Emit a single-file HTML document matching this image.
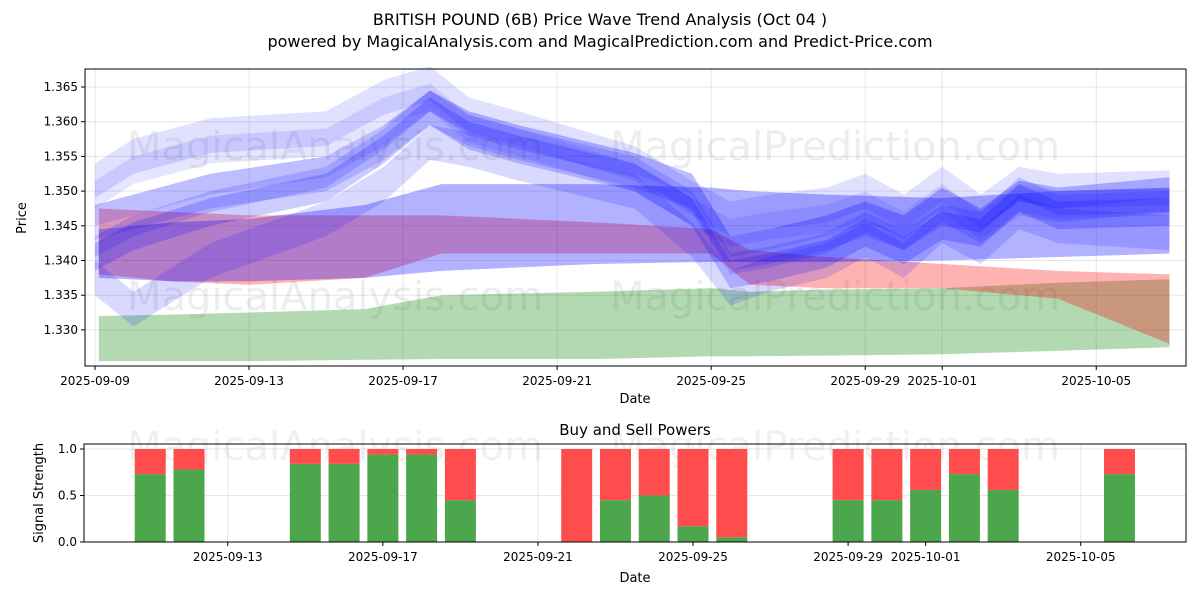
<!DOCTYPE html>
<html><head><meta charset="utf-8"><style>
body{margin:0;background:#fff;font-family:"Liberation Sans","DejaVu Sans",sans-serif}
svg text{font-family:"DejaVu Sans","Liberation Sans",sans-serif}
</style></head><body>
<svg id="c" width="1200" height="600" xmlns="http://www.w3.org/2000/svg">
<rect width="1200" height="600" fill="#fff"/>
<text x="600" y="25" text-anchor="middle" font-size="16">BRITISH POUND (6B) Price Wave Trend Analysis (Oct 04 )</text>
<text x="600" y="47" text-anchor="middle" font-size="16">powered by MagicalAnalysis.com and MagicalPrediction.com and Predict-Price.com</text>
<g id="topG"></g><g id="botG"></g>
</svg>
<script>
// Top chart data (day offsets from 2025-09-09)
const bandDays = [0.1,2,4,7,9,13,16,17,19,22,25,27.9];
const greenLow = [1.3255,1.3255,1.3255,1.3257,1.3258,1.3258,1.3262,1.3262,1.3263,1.3265,1.327,1.3275];
const greenHigh = [1.332,1.3322,1.3325,1.333,1.335,1.3355,1.336,1.3355,1.3358,1.336,1.3368,1.3373];
const redLow = [1.338,1.337,1.3365,1.3375,1.341,1.341,1.341,1.3365,1.336,1.336,1.3345,1.328];
const redHigh = [1.3475,1.347,1.3465,1.3465,1.3465,1.3455,1.3445,1.3415,1.3405,1.3395,1.3385,1.338];
const purpleLow = [1.3375,1.337,1.337,1.3375,1.3385,1.3395,1.3398,1.3398,1.3398,1.340,1.3405,1.341];
const purpleHigh = [1.3445,1.3455,1.346,1.348,1.351,1.351,1.3505,1.350,1.3495,1.349,1.350,1.3505];
const waveDays = [0,1,3,6,7.5,8.7,9.7,11,14,15.5,16.5,17.5,19,20,21,22,23,24,25,27.9];
const waveA = [1.3405,1.3435,1.347,1.3505,1.356,1.3615,1.358,1.356,1.352,1.347,1.338,1.339,1.341,1.344,1.3415,1.345,1.344,1.349,1.3465,1.347];
const waveB = [1.3515,1.355,1.358,1.359,1.3635,1.3655,1.361,1.359,1.354,1.349,1.346,1.347,1.348,1.350,1.347,1.351,1.347,1.351,1.350,1.3505];
const waveC = [1.3455,1.347,1.350,1.3525,1.357,1.362,1.359,1.357,1.353,1.350,1.341,1.342,1.344,1.346,1.344,1.348,1.345,1.349,1.348,1.3495];
const waveD = [1.3375,1.333,1.340,1.346,1.351,1.357,1.356,1.354,1.350,1.343,1.336,1.338,1.340,1.343,1.340,1.345,1.342,1.347,1.345,1.344];
const yTicks = [1.330,1.335,1.340,1.345,1.350,1.355,1.360,1.365];
const xTickDays = [0,4,8,12,16,20,22,26];
const xTickLabels = ["2025-09-09","2025-09-13","2025-09-17","2025-09-21","2025-09-25","2025-09-29","2025-10-01","2025-10-05"];
// Bottom chart data
const barDays = [2,3,6,7,8,9,10,13,14,15,16,17,20,21,22,23,24,27];
const buyPower = [0.73,0.78,0.84,0.84,0.94,0.94,0.45,0,0.45,0.5,0.17,0.05,0.45,0.45,0.56,0.73,0.56,0.73];
const sigTicks = [0,0.5,1.0];
const botTickDays = [4,8,12,16,20,22,26];
const botTickLabels = ["2025-09-13","2025-09-17","2025-09-21","2025-09-25","2025-09-29","2025-10-01","2025-10-05"];

const NS="http://www.w3.org/2000/svg";
function mk(tag,attrs,parent,txt){const e=document.createElementNS(NS,tag);for(const k in attrs)e.setAttribute(k,attrs[k]);if(txt!==undefined)e.textContent=txt;parent.appendChild(e);return e;}
const gTop=document.getElementById('topG'), gBot=document.getElementById('botG');
const L=85,R=1186,T=69,B=366;
const xs=d=>95+d*38.51;
const ys=v=>87+(1.365-v)/0.005*34.7;
function band(days,lo,hi,fill,op,name){
  let p=days.map((d,i)=>xs(d)+','+ys(hi[i]));
  for(let i=days.length-1;i>=0;i--)p.push(xs(days[i])+','+ys(lo[i]));
  const e=mk('polygon',{points:p.join(' '),fill:fill,'fill-opacity':op},gTop);
  
  
}
function wave(arr,off,hw,op,name){
  band(waveDays,arr.map(v=>v+off-hw),arr.map(v=>v+off+hw),'#0000ff',op,name);
}
yTicks.forEach(v=>{const g=mk('line',{x1:L,x2:R,y1:ys(v),y2:ys(v),stroke:'#e6e6e6'},gTop);

});
xTickDays.forEach(d=>{const g=mk('line',{x1:xs(d),x2:xs(d),y1:T,y2:B,stroke:'#e6e6e6'},gTop);

});
[[335,160],[835,160],[335,310],[835,310]].forEach((p,i)=>{const t=mk('text',{x:p[0],y:p[1],'text-anchor':'middle','font-size':40,fill:'#000','fill-opacity':0.07},gTop,i%2?'MagicalPrediction.com':'MagicalAnalysis.com');

});
band(bandDays,greenLow,greenHigh,'#008000',0.3,'green-band');
band(bandDays,redLow,redHigh,'#ff0000',0.3,'red-band');
band(bandDays,purpleLow,purpleHigh,'#0000ff',0.3,'blue-band');
wave(waveB,0,0.0025,0.12,'wave-upper');
wave(waveB,-0.002,0.002,0.1,'wave-upper-2');
wave(waveC,0,0.0025,0.15,'wave-mid');
wave(waveC,0.001,0.0015,0.12,'wave-mid-2');
wave(waveA,0,0.002,0.2,'wave-main');
wave(waveA,0.0015,0.0015,0.15,'wave-main-2');
wave(waveD,0,0.0025,0.15,'wave-lower');
const f=mk('rect',{x:L,y:T,width:R-L,height:B-T,fill:'none',stroke:'#000','stroke-width':1},gTop);


yTicks.forEach(v=>{mk('line',{x1:L-4,x2:L,y1:ys(v),y2:ys(v),stroke:'#000'},gTop);
const t=mk('text',{x:L-7,y:ys(v)+4,'text-anchor':'end','font-size':12},gTop,v.toFixed(3));

});
xTickDays.forEach((d,i)=>{mk('line',{x1:xs(d),x2:xs(d),y1:B,y2:B+4,stroke:'#000'},gTop);
const t=mk('text',{x:xs(d),y:B+19,'text-anchor':'middle','font-size':12},gTop,xTickLabels[i]);

});
let t1=mk('text',{x:635,y:403,'text-anchor':'middle','font-size':13},gTop,'Date');


let t2=mk('text',{x:26,y:218,'text-anchor':'middle','font-size':13,transform:'rotate(-90 26 218)'},gTop,'Price');



const bL=84,bR=1186,bT=444,bB=542;
const bx=d=>72.7+d*38.77;
const by=v=>542-v*93;
sigTicks.forEach(v=>{const g=mk('line',{x1:bL,x2:bR,y1:by(v),y2:by(v),stroke:'#e6e6e6'},gBot);

});
botTickDays.forEach(d=>{const g=mk('line',{x1:bx(d),x2:bx(d),y1:bT,y2:bB,stroke:'#e6e6e6'},gBot);

});
[[335,460],[835,460]].forEach((p,i)=>{const t=mk('text',{x:p[0],y:p[1],'text-anchor':'middle','font-size':40,fill:'#000','fill-opacity':0.06},gBot,i?'MagicalPrediction.com':'MagicalAnalysis.com');

});
const bw=31;
barDays.forEach((d,i)=>{
  const g=mk('rect',{x:bx(d)-bw/2,y:by(buyPower[i]),width:bw,height:by(0)-by(buyPower[i]),fill:'#4ca64c'},gBot);
  
  
  const r=mk('rect',{x:bx(d)-bw/2,y:by(1),width:bw,height:by(buyPower[i])-by(1),fill:'#ff4d4d'},gBot);
  
  
});
const f2=mk('rect',{x:bL,y:bT,width:bR-bL,height:bB-bT,fill:'none',stroke:'#000'},gBot);


sigTicks.forEach(v=>{mk('line',{x1:bL-4,x2:bL,y1:by(v),y2:by(v),stroke:'#000'},gBot);
const t=mk('text',{x:bL-7,y:by(v)+4,'text-anchor':'end','font-size':12},gBot,v.toFixed(1));

});
botTickDays.forEach((d,i)=>{mk('line',{x1:bx(d),x2:bx(d),y1:bB,y2:bB+4,stroke:'#000'},gBot);
const t=mk('text',{x:bx(d),y:bB+19,'text-anchor':'middle','font-size':12},gBot,botTickLabels[i]);

});
let t3=mk('text',{x:635,y:435,'text-anchor':'middle','font-size':15},gBot,'Buy and Sell Powers');


let t4=mk('text',{x:635,y:582,'text-anchor':'middle','font-size':13},gBot,'Date');


let t5=mk('text',{x:43,y:493,'text-anchor':'middle','font-size':13,transform:'rotate(-90 43 493)'},gBot,'Signal Strength');


</script>
</body></html>
